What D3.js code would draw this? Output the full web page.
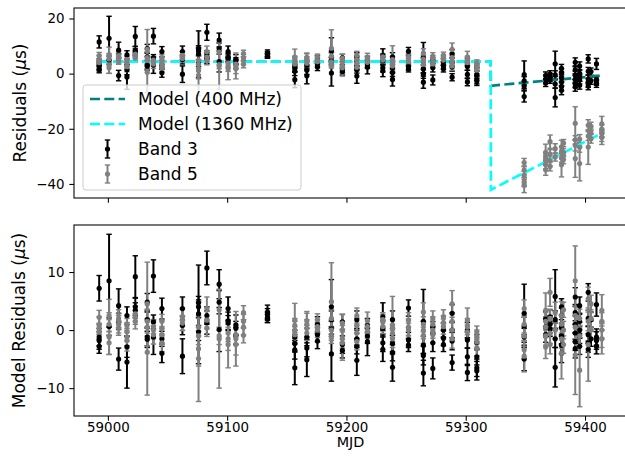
<!DOCTYPE html>
<html>
<head>
<meta charset="utf-8">
<script src="https://cdn.jsdelivr.net/npm/d3@7"></script>
<style>
  body { margin: 0; background: #fff; }
  text { font-family: "DejaVu Sans", sans-serif; }
</style>
</head>
<body>
<div id="chart"></div>
<script>
// tick labels
const xTicks = [59000, 59100, 59200, 59300, 59400];
const yTicksTop = [20, 0, -20, -40];
const yTicksBottom = [10, 0, -10];

// model curves (us), evaluated at these MJDs
const modelMjd = [58992.7, 59320.9, 59321.1, 59414.1];
const model400 = [4.3, 4.3, -4.4, -0.7];
const model1360 = [4.3, 4.3, -42.1, -21.6];

// [MJD, model residual (us), error (us)]
const band3 = [
  [58992.7, 7.2, 2.2], [58992.7, -1.2, 1.5], [58992.7, -2.8, 1.2], [58992.7, -1.8, 1.5],
  [59001, 8.5, 8.0], [59001, 0.6, 1.5],
  [59009, 4.2, 2.9], [59009, -5.0, 1.9], [59009, 1.5, 1.4],
  [59016, 2.5, 1.5], [59016, -2.9, 1.8], [59016, -5.5, 4.5],
  [59023, 9.2, 3.6], [59023, 4.0, 1.5], [59023, 3.4, 1.3],
  [59033, 4.8, 1.5], [59033, 1.8, 1.3], [59033, -1.2, 1.5], [59033, -1.6, 1.4],
  [59038.2, 9.3, 2.8], [59038.2, 1.4, 1.2], [59038.2, -1.2, 3.0],
  [59045.3, 3.7, 1.8], [59045.3, -4.0, 1.6], [59045.3, -1.5, 1.3],
  [59062.5, 3.7, 2.0], [59062.5, 0.8, 1.6], [59062.5, -4.5, 3.0],
  [59076, 4.7, 6.5], [59076, 4.0, 1.8], [59076, 2.8, 2.0], [59076, -0.3, 5.5],
  [59083, 10.7, 2.9], [59083, 2.5, 1.5], [59083, 1.3, 2.0],
  [59093.3, 7.9, 2.5], [59093.3, 4.8, 2.0], [59093.3, 0.1, 3.8],
  [59100.8, 3.7, 2.0], [59100.8, 1.6, 1.5], [59100.8, 1.2, 1.3],
  [59107.3, 0.9, 1.7], [59107.3, 0.3, 1.2], [59107.3, -1.0, 1.5],
  [59133.8, 3.1, 1.2], [59133.8, 2.7, 1.0], [59133.8, 2.2, 0.9], [59133.8, 2.0, 0.7],
  [59156.7, -2.3, 1.5], [59156.7, -3.4, 1.6], [59156.7, -6.5, 2.9], [59156.7, -1.2, 1.2],
  [59166.8, -1.2, 1.5], [59166.8, -3.1, 1.5], [59166.8, -5.1, 2.9],
  [59175.7, 1.0, 1.3], [59175.7, -0.8, 1.2], [59175.7, -1.9, 1.3],
  [59187.4, 4.0, 4.7], [59187.4, 1.8, 1.5], [59187.4, 0.2, 1.3], [59187.4, -4.1, 4.7],
  [59196.6, 1.4, 1.3], [59196.6, -2.5, 1.5], [59196.6, -3.5, 1.3],
  [59208.7, 1.8, 1.5], [59208.7, -1.5, 1.5], [59208.7, -5.2, 2.6], [59208.7, -2.8, 1.3],
  [59217.6, 0.8, 1.2], [59217.6, -1.0, 1.3], [59217.6, -2.0, 2.4],
  [59230.5, 2.3, 2.4], [59230.5, -2.2, 1.5], [59230.5, -3.3, 2.1], [59230.5, 0.3, 1.3],
  [59238.6, 1.8, 1.5], [59238.6, -2.3, 1.4], [59238.6, -3.9, 1.4], [59238.6, -6.4, 2.4],
  [59252, 3.8, 1.4], [59252, -1.7, 1.3], [59252, -2.6, 1.1],
  [59264.5, 1.5, 5.5], [59264.5, -2.6, 1.5], [59264.5, -4.4, 1.6], [59264.5, -7.4, 2.2],
  [59272.4, 0.5, 1.0], [59272.4, -2.2, 1.5], [59272.4, -6.6, 1.8],
  [59281.3, 0.0, 1.2], [59281.3, -1.4, 1.3], [59281.3, -2.5, 1.2],
  [59288.6, 2.9, 1.5], [59288.6, 0.0, 1.3], [59288.6, -1.9, 1.5], [59288.6, -5.6, 1.3],
  [59301.4, 0.0, 1.3], [59301.4, -1.7, 1.4], [59301.4, -4.6, 1.5], [59301.4, -7.3, 1.4],
  [59309.3, -2.1, 1.3], [59309.3, -4.6, 1.4], [59309.3, -6.5, 1.5], [59309.3, -7.0, 1.6],
  [59349, 2.9, 5.0], [59349, 0.7, 1.5], [59349, -1.2, 1.5], [59349, -5.0, 2.0],
  [59367, 1.9, 1.3], [59367, 0.5, 1.5], [59367, -0.8, 1.3],
  [59370.7, 2.3, 1.2], [59370.7, 0.2, 1.3], [59370.7, 1.0, 1.5],
  [59375, 5.8, 4.6], [59375, -6.4, 3.4], [59375, 1.8, 1.5], [59375, -1.5, 1.5],
  [59380.3, 4.0, 1.4], [59380.3, 2.5, 1.3], [59380.3, 0.5, 1.3], [59380.3, -1.0, 1.4], [59380.3, -2.6, 1.5], [59380.3, -4.0, 1.6],
  [59391.8, 5.7, 1.6], [59391.8, 3.0, 1.4], [59391.8, 1.0, 1.5], [59391.8, -0.5, 1.5], [59391.8, -2.0, 1.5], [59391.8, -3.2, 1.6],
  [59395.5, 4.2, 1.5], [59395.5, 1.5, 1.4], [59395.5, -0.8, 1.5], [59395.5, -2.8, 1.4], [59395.5, 0.0, 1.3],
  [59402.7, 6.5, 1.5], [59402.7, 2.0, 1.4], [59402.7, -0.8, 1.5], [59402.7, -2.2, 1.6], [59402.7, -3.3, 1.4],
  [59405, 1.8, 1.3], [59405, -1.5, 1.3],
  [59409.6, 4.4, 2.0], [59409.6, -1.2, 1.4], [59409.6, -1.8, 1.5], [59409.6, -2.8, 1.3]
];

const band5 = [
  [58992.7, 2.2, 1.2], [58992.7, 0.8, 1.5], [58992.7, -0.3, 1.3], [58992.7, 0.2, 1.0],
  [59001, 2.5, 2.8], [59001, -1.2, 3.0], [59001, -2.2, 2.0], [59001, 1.0, 2.0],
  [59009, 2.0, 1.5], [59009, 1.0, 1.5], [59009, 0.3, 1.2], [59009, 1.6, 1.2],
  [59016, -0.3, 1.6], [59016, -1.2, 1.5], [59016, 0.8, 1.2], [59016, -1.8, 1.8],
  [59023, 2.2, 1.2], [59023, 1.5, 1.3], [59023, 2.8, 1.3],
  [59033, 4.5, 7.2], [59033, -3.8, 7.4], [59033, 1.5, 2.0], [59033, 0.5, 1.5],
  [59038.2, 0.0, 1.5], [59038.2, -0.8, 1.6], [59038.2, 0.6, 1.2],
  [59045.3, 1.5, 1.2], [59045.3, 0.3, 1.3], [59045.3, -0.8, 1.4], [59045.3, -2.2, 1.5],
  [59062.5, 2.3, 1.5], [59062.5, 1.2, 1.3], [59062.5, 1.8, 1.8],
  [59076, -3.2, 3.0], [59076, -4.9, 7.4], [59076, 0.5, 1.5], [59076, -1.0, 1.5],
  [59083, 3.7, 2.0], [59083, 1.7, 1.5], [59083, 0.4, 1.5],
  [59093.3, -1.5, 8.5], [59093.3, -1.0, 1.5], [59093.3, 3.5, 3.5],
  [59100.8, -2.5, 4.0], [59100.8, -1.5, 2.0], [59100.8, -0.5, 1.5],
  [59107.3, -1.5, 4.7], [59107.3, -0.8, 1.5], [59107.3, -2.5, 1.8],
  [59113.7, 3.0, 1.2], [59113.7, 1.5, 1.2], [59113.7, 0.5, 1.3], [59113.7, -0.9, 1.3],
  [59156.7, 1.7, 2.9], [59156.7, 0.0, 1.5], [59156.7, -0.8, 1.4], [59156.7, 0.8, 1.2],
  [59166.8, 1.0, 2.2], [59166.8, 0.3, 1.5], [59166.8, -0.5, 1.3], [59166.8, 1.6, 1.3],
  [59175.7, 1.8, 1.0], [59175.7, 0.6, 1.2], [59175.7, 0.0, 1.3],
  [59187.4, 4.9, 6.7], [59187.4, 2.0, 1.5], [59187.4, 0.0, 1.5], [59187.4, -1.0, 1.3],
  [59196.6, 1.2, 1.5], [59196.6, 0.0, 1.5], [59196.6, -1.5, 1.6], [59196.6, -2.2, 3.0],
  [59208.7, 2.5, 1.3], [59208.7, 0.8, 1.3], [59208.7, -0.5, 1.3], [59208.7, -2.0, 1.4],
  [59217.6, 1.6, 1.5], [59217.6, 0.6, 1.2], [59217.6, -0.2, 1.2],
  [59230.5, 1.4, 1.3], [59230.5, 0.6, 1.2], [59230.5, 1.8, 1.2],
  [59238.6, 0.8, 5.0], [59238.6, -0.5, 1.5], [59238.6, -1.5, 1.5], [59238.6, 0.3, 1.5],
  [59252, 1.7, 1.3], [59252, 0.5, 1.4], [59252, 0.0, 1.2],
  [59264.5, 3.1, 1.6], [59264.5, 1.0, 1.3], [59264.5, 0.0, 1.5], [59264.5, -0.9, 1.4],
  [59272.4, 2.0, 1.3], [59272.4, 1.0, 1.3], [59272.4, 0.0, 1.4], [59272.4, -0.8, 1.4],
  [59281.3, 2.3, 1.2], [59281.3, 1.3, 1.2], [59281.3, 0.6, 1.3],
  [59288.6, 4.5, 2.3], [59288.6, 1.5, 1.5], [59288.6, 0.0, 1.5], [59288.6, -1.5, 1.6],
  [59301.4, 1.7, 2.1], [59301.4, 0.6, 1.4], [59301.4, -0.3, 1.2],
  [59309.3, -0.3, 1.0], [59309.3, -1.2, 1.2], [59309.3, -2.0, 1.3], [59309.3, -3.0, 1.4],
  [59349, 3.7, 1.5], [59349, 1.0, 1.5], [59349, -1.0, 1.5], [59349, -3.4, 1.6], [59349, -4.5, 2.7],
  [59367, 3.4, 3.0], [59367, 1.5, 1.5], [59367, 0.5, 1.8], [59367, -1.0, 1.6], [59367, -2.9, 2.0],
  [59370.7, 6.5, 2.4], [59370.7, 2.0, 1.6], [59370.7, -0.5, 1.8], [59370.7, -2.5, 1.6],
  [59375, 3.0, 1.8], [59375, 0.0, 1.5],
  [59380.3, 2.5, 2.4], [59380.3, 1.0, 1.5], [59380.3, -1.5, 1.6], [59380.3, -4.0, 4.4],
  [59382, 3.5, 1.3], [59382, 0.0, 1.5], [59382, -2.5, 1.5],
  [59391.8, 8.5, 6.0], [59391.8, -4.3, 6.8], [59391.8, 0.5, 2.0], [59391.8, 2.5, 1.5],
  [59395.5, -6.9, 6.3], [59395.5, 2.0, 1.6], [59395.5, -1.0, 1.8],
  [59402.7, 5.4, 2.0], [59402.7, 1.5, 1.6], [59402.7, -2.5, 6.3],
  [59405, 4.5, 1.5], [59405, 2.0, 1.5], [59405, 0.0, 1.6],
  [59414.1, 3.4, 2.7], [59414.1, 1.5, 1.5], [59414.1, 0.0, 1.4], [59414.1, -1.5, 1.5], [59414.1, -1.5, 2.6]
];

function drawChart() {
  const width = 625;
  const height = 460;

  const colors = { band3: '#000000', band5: '#808080', m400: '#008080', m1360: '#00ffff' };

  const wrapper = d3.select('#chart')
    .append('svg')
      .attr('width', width)
      .attr('height', height);

  // panels
  const left = 74, right = 627;
  const topPanel = { y0: 8, y1: 198 };
  const botPanel = { y0: 225, y1: 416 };

  const xScale = d3.scaleLinear()
    .domain([58971.6, 59435.2])
    .range([left, right]);

  const yTop = d3.scaleLinear()
    .domain([-45.1, 23.8])
    .range([topPanel.y1, topPanel.y0]);

  const yBottom = d3.scaleLinear()
    .domain([-14.8, 18.1])
    .range([botPanel.y1, botPanel.y0]);

  // the model as a piecewise linear function of MJD
  const model3 = d3.scaleLinear().domain(modelMjd).range(model400);
  const model5 = d3.scaleLinear().domain(modelMjd).range(model1360);

  const defs = wrapper.append('defs');
  [['clipTop', topPanel], ['clipBot', botPanel]].forEach(([id, p]) => {
    defs.append('clipPath').attr('id', id)
      .append('rect')
        .attr('x', left).attr('y', p.y0)
        .attr('width', right - left).attr('height', p.y1 - p.y0);
  });

  function drawBars(g, data, yScale, offset, color) {
    const bars = g.append('g');
    data.forEach(d => {
      const x = xScale(d[0]);
      const v = d[1] + offset(d[0]);
      const y1 = yScale(v + d[2]);
      const y2 = yScale(v - d[2]);
      bars.append('line')
        .attr('x1', x).attr('x2', x).attr('y1', y1).attr('y2', y2)
        .attr('stroke', color).attr('stroke-width', 2);
      [y1, y2].forEach(yc => {
        bars.append('line')
          .attr('x1', x - 2.7).attr('x2', x + 2.7).attr('y1', yc).attr('y2', yc)
          .attr('stroke', color).attr('stroke-width', 1.4);
      });
    });
  }

  function drawDots(g, data, yScale, offset, color) {
    g.append('g').selectAll('circle')
      .data(data)
      .join('circle')
        .attr('cx', d => xScale(d[0]))
        .attr('cy', d => yScale(d[1] + offset(d[0])))
        .attr('r', 2.6)
        .attr('fill', color);
  }

  function drawFrame(p, yScale, yTicks, showXLabels) {
    const yAxis = d3.axisLeft(yScale)
      .tickValues(yTicks)
      .tickSize(4.7)
      .tickPadding(4.7)
      .tickFormat(d3.format('d'));
    const gy = wrapper.append('g')
      .attr('transform', `translate(${left},0)`)
      .call(yAxis);
    gy.select('.domain').remove();
    gy.selectAll('text').attr('font-size', 13.4).attr('font-family', 'DejaVu Sans');
    gy.selectAll('line').attr('stroke-width', 1.07);

    const xAxis = d3.axisBottom(xScale)
      .tickValues(xTicks)
      .tickSize(4.7)
      .tickPadding(1.5)
      .tickFormat(showXLabels ? d3.format('d') : '');
    const gx = wrapper.append('g')
      .attr('transform', `translate(0,${p.y1})`)
      .call(xAxis);
    gx.select('.domain').remove();
    gx.selectAll('text').attr('font-size', 13.4).attr('font-family', 'DejaVu Sans');
    gx.selectAll('line').attr('stroke-width', 1.07);

    wrapper.append('rect')
      .attr('x', left).attr('y', p.y0)
      .attr('width', right - left).attr('height', p.y1 - p.y0)
      .attr('fill', 'none')
      .attr('stroke', '#000')
      .attr('stroke-width', 1.07);
  }

  const zero = () => 0;
  const line = yScale => d3.line()
    .x(d => xScale(d[0]))
    .y(d => yScale(d[1]));

  // top panel: residuals
  const gTop = wrapper.append('g').attr('clip-path', 'url(#clipTop)');
  drawBars(gTop, band3, yTop, model3, colors.band3);
  drawBars(gTop, band5, yTop, model5, colors.band5);
  gTop.append('path')
    .datum(d3.zip(modelMjd, model400))
    .attr('d', line(yTop))
    .attr('fill', 'none')
    .attr('stroke', colors.m400)
    .attr('stroke-width', 2.7)
    .attr('stroke-dasharray', '10,4.3');
  gTop.append('path')
    .datum(d3.zip(modelMjd, model1360))
    .attr('d', line(yTop))
    .attr('fill', 'none')
    .attr('stroke', colors.m1360)
    .attr('stroke-width', 2.7)
    .attr('stroke-dasharray', '10,4.3');
  drawDots(gTop, band3, yTop, model3, colors.band3);
  drawDots(gTop, band5, yTop, model5, colors.band5);
  drawFrame(topPanel, yTop, yTicksTop, false);

  // bottom panel: model residuals
  const gBot = wrapper.append('g').attr('clip-path', 'url(#clipBot)');
  drawBars(gBot, band3, yBottom, zero, colors.band3);
  drawBars(gBot, band5, yBottom, zero, colors.band5);
  drawDots(gBot, band3, yBottom, zero, colors.band3);
  drawDots(gBot, band5, yBottom, zero, colors.band5);
  drawFrame(botPanel, yBottom, yTicksBottom, true);

  // axis labels
  const ylab = (x, y, prefix) => {
    const t = wrapper.append('text')
      .attr('transform', `translate(${x},${y}) rotate(-90)`)
      .attr('text-anchor', 'middle')
      .attr('dominant-baseline', 'central')
      .attr('font-size', 17);
    t.append('tspan').text(prefix + ' (');
    t.append('tspan').attr('font-style', 'italic').text('\u03bc');
    t.append('tspan').text('s)');
  };
  ylab(20, (topPanel.y0 + topPanel.y1) / 2, 'Residuals');
  ylab(19, (botPanel.y0 + botPanel.y1) / 2, 'Model Residuals');

  wrapper.append('text')
    .attr('x', (left + right) / 2)
    .attr('y', 442)
    .attr('text-anchor', 'middle')
    .attr('dominant-baseline', 'central')
    .attr('font-size', 14.4)
    .text('MJD');

  // legend
  const legend = wrapper.append('g');
  legend.append('rect')
    .attr('x', 83).attr('y', 85)
    .attr('width', 218).attr('height', 105)
    .attr('rx', 3)
    .attr('fill', '#fff').attr('fill-opacity', 0.8)
    .attr('stroke', '#cccccc').attr('stroke-width', 1);

  const entries = [
    { label: 'Model (400 MHz)', type: 'line', color: colors.m400 },
    { label: 'Model (1360 MHz)', type: 'line', color: colors.m1360 },
    { label: 'Band 3', type: 'err', color: colors.band3 },
    { label: 'Band 5', type: 'err', color: colors.band5 }
  ];
  entries.forEach((e, i) => {
    const y = 99 + i * 25;
    if (e.type === 'line') {
      legend.append('line')
        .attr('x1', 90).attr('x2', 125).attr('y1', y).attr('y2', y)
        .attr('stroke', e.color).attr('stroke-width', 2.7)
        .attr('stroke-dasharray', '10,4.3');
    } else {
      const cx = 107.5;
      legend.append('line')
        .attr('x1', cx).attr('x2', cx).attr('y1', y - 9).attr('y2', y + 9)
        .attr('stroke', e.color).attr('stroke-width', 2);
      [y - 9, y + 9].forEach(yc => {
        legend.append('line')
          .attr('x1', cx - 2.7).attr('x2', cx + 2.7).attr('y1', yc).attr('y2', yc)
          .attr('stroke', e.color).attr('stroke-width', 1.4);
      });
      legend.append('circle')
        .attr('cx', cx).attr('cy', y).attr('r', 2.6).attr('fill', e.color);
    }
    legend.append('text')
      .attr('x', 138).attr('y', y)
      .attr('dominant-baseline', 'central')
      .attr('font-size', 17)
      .text(e.label);
  });
}

drawChart();
</script>
</body>
</html>
